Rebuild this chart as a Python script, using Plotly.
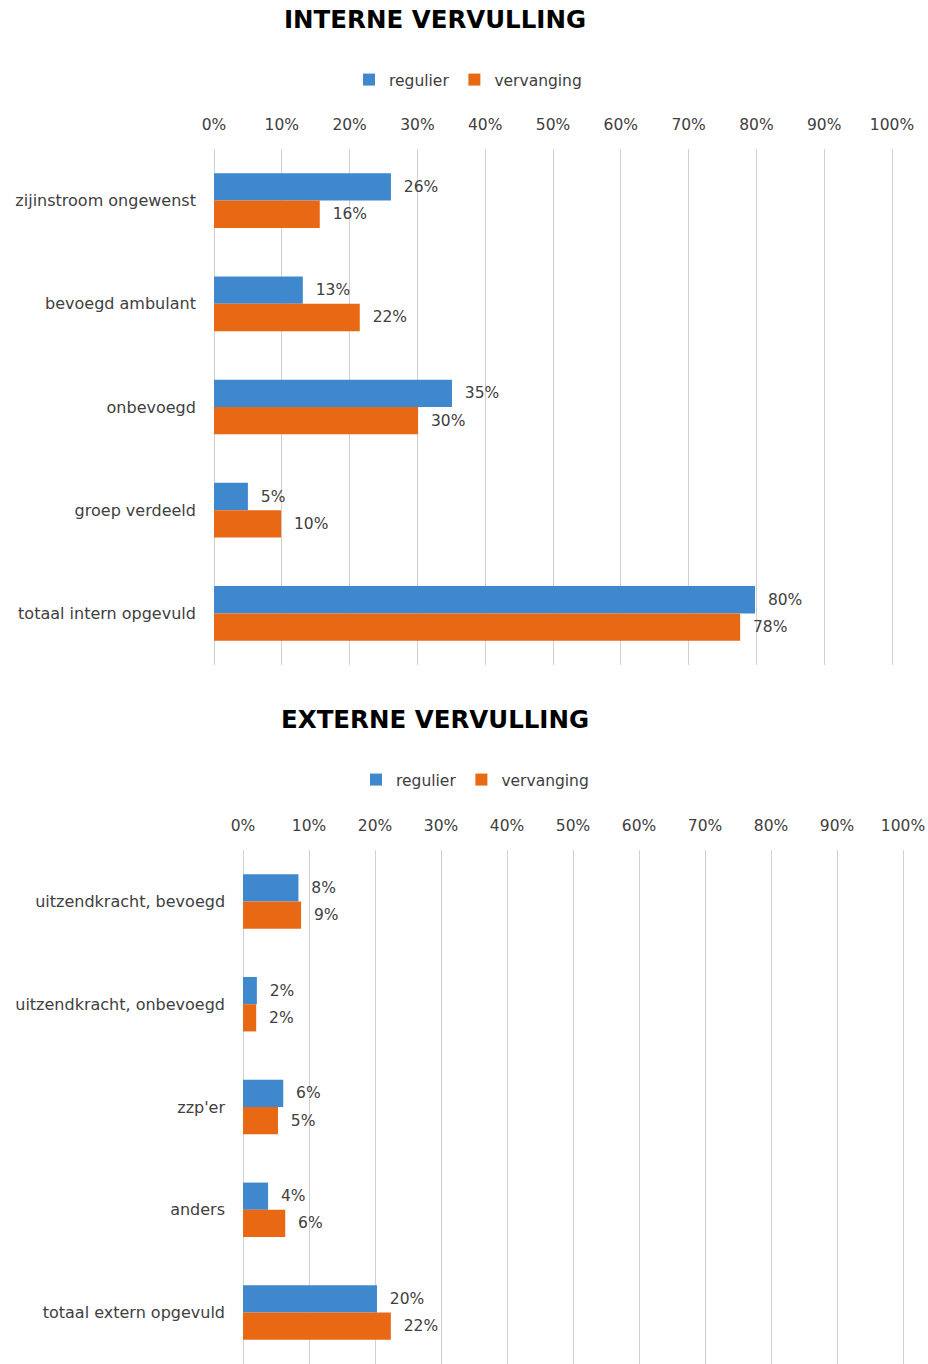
import plotly.graph_objects as go

# ---- data ----
intern_categories = ["zijinstroom ongewenst", "bevoegd ambulant", "onbevoegd", "groep verdeeld", "totaal intern opgevuld"]
intern_regulier = [26.1, 13.1, 35.1, 5.0, 79.8]
intern_vervanging = [15.6, 21.5, 30.1, 9.9, 77.6]

extern_categories = ["uitzendkracht, bevoegd", "uitzendkracht, onbevoegd", "zzp'er", "anders", "totaal extern opgevuld"]
extern_regulier = [8.4, 2.1, 6.1, 3.8, 20.3]
extern_vervanging = [8.8, 2.0, 5.3, 6.4, 22.4]

series_names = ["regulier", "vervanging"]
tick_vals = list(range(0, 101, 10))
tick_text = [f"{v}%" for v in tick_vals]
titles = ["INTERNE VERVULLING", "EXTERNE VERVULLING"]

BLUE = "#3F88CE"
ORANGE = "#E96813"
GRID = "#D0D0D0"
FONT = "DejaVu Sans"
TXT = "#404040"
FS = 15.5
FS_CAT = 16

W, H = 928, 1364
PAD = 0.6  # small range padding so that the 0% and 100% gridlines are drawn

fig = go.Figure()

def add_pair(cats, reg, verv, xa, ya, leg):
    for name, vals, col in [(series_names[0], reg, BLUE), (series_names[1], verv, ORANGE)]:
        fig.add_trace(go.Bar(
            y=cats, x=vals, name=name, orientation="h",
            marker=dict(color=col, line=dict(width=0)),
            texttemplate="\u00a0\u00a0%{x:.0f}%", textposition="outside",
            textfont=dict(family=FONT, size=FS, color=TXT),
            cliponaxis=False,
            xaxis=xa, yaxis=ya, legend=leg,
        ))

add_pair(intern_categories, intern_regulier, intern_vervanging, "x", "y", "legend")
add_pair(extern_categories, extern_regulier, extern_vervanging, "x2", "y2", "legend2")

def xdomain(x0, x100):
    s = (x100 - x0) / 100.0
    return [(x0 - PAD * s) / W, (x100 + PAD * s) / W]

def xaxis_cfg(domain, anchor):
    return dict(
        domain=domain, anchor=anchor, side="top", range=[-PAD, 100 + PAD],
        tickvals=tick_vals, ticktext=tick_text, showgrid=True,
        gridcolor=GRID, gridwidth=1, zeroline=False, showline=False,
        ticks="", ticklabelstandoff=15, automargin=False,
        tickfont=dict(family=FONT, size=FS, color=TXT), fixedrange=True,
    )

def yaxis_cfg(domain, anchor, cats):
    return dict(
        domain=domain, anchor=anchor, categoryorder="array", categoryarray=cats,
        autorange="reversed", showgrid=False, zeroline=False, showline=False,
        ticks="", ticklabelstandoff=13, automargin=False,
        tickfont=dict(family=FONT, size=FS_CAT, color=TXT), fixedrange=True,
    )

fig.update_layout(
    width=W, height=H, autosize=False,
    margin=dict(l=0, r=0, t=0, b=0, pad=0),
    paper_bgcolor="white", plot_bgcolor="white",
    barmode="group", bargap=0.47, bargroupgap=0,
    xaxis=xaxis_cfg(xdomain(214, 892), "y"),
    yaxis=yaxis_cfg([1 - 665 / H, 1 - 149 / H], "x", intern_categories),
    xaxis2=xaxis_cfg(xdomain(243, 903), "y2"),
    yaxis2=yaxis_cfg([0, 1 - 850 / H], "x2", extern_categories),
    legend=dict(orientation="h", x=468 / W, xanchor="center", y=1 - 80 / H, yanchor="middle",
                font=dict(family=FONT, size=FS, color=TXT), bgcolor="rgba(0,0,0,0)"),
    legend2=dict(orientation="h", x=475 / W, xanchor="center", y=1 - 780 / H, yanchor="middle",
                 font=dict(family=FONT, size=FS, color=TXT), bgcolor="rgba(0,0,0,0)"),
    showlegend=True,
    font=dict(family=FONT, color=TXT),
)

for t, ypx in zip(titles, [20, 719]):
    fig.add_annotation(text=f"<b>{t}</b>", x=435 / W, y=1 - ypx / H, xref="paper", yref="paper",
                       xanchor="center", yanchor="middle", showarrow=False,
                       font=dict(family=FONT, size=24.5, color="#000000"))

fig.write_html(
    "out.html",
    config={"responsive": False, "displayModeBar": False},
    post_script="document.body.style.margin='0';document.body.style.overflow='hidden';",
)
